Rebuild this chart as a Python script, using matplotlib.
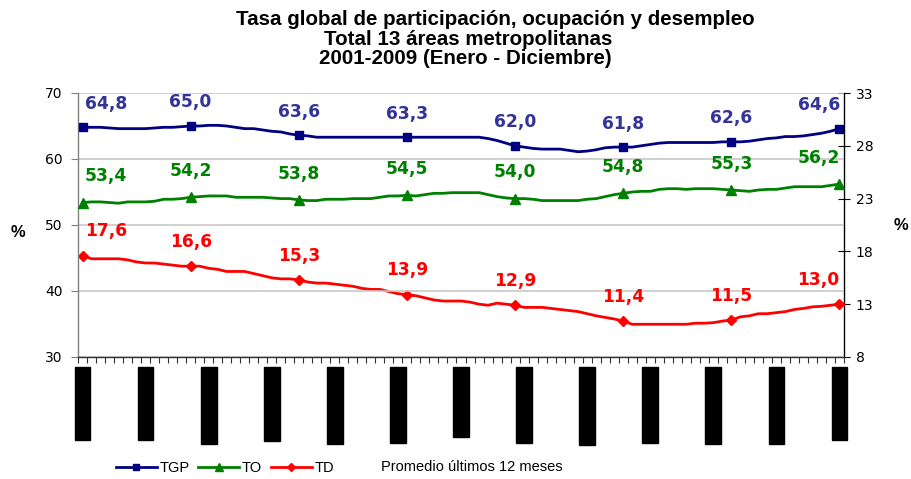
import matplotlib
matplotlib.use("Agg")
import matplotlib.pyplot as plt
import matplotlib.transforms as mtransforms
from matplotlib.patches import Rectangle
from matplotlib.lines import Line2D

plt.rcParams['font.family'] = ['Liberation Sans', 'DejaVu Sans']

title_lines = ["Tasa global de participación, ocupación y desempleo",
               "Total 13 áreas metropolitanas",
               "2001-2009 (Enero - Diciembre)"]

tgp = [64.8, 64.8, 64.8, 64.7, 64.6, 64.6, 64.6, 64.6, 64.7, 64.8, 64.8, 64.9,
       65.0, 65.0, 65.1, 65.1, 65.0, 64.8, 64.6, 64.6, 64.4, 64.2, 64.1, 63.8,
       63.6, 63.5, 63.3, 63.3, 63.3, 63.3, 63.3, 63.3, 63.3, 63.3, 63.3, 63.3,
       63.3, 63.3, 63.3, 63.3, 63.3, 63.3, 63.3, 63.3, 63.3, 63.1, 62.8, 62.4,
       62.0, 61.8, 61.6, 61.5, 61.5, 61.5, 61.3, 61.1, 61.2, 61.4, 61.7, 61.8,
       61.8, 61.8, 62.0, 62.2, 62.4, 62.5, 62.5, 62.5, 62.5, 62.5, 62.5, 62.6,
       62.6, 62.6, 62.7, 62.9, 63.1, 63.2, 63.4, 63.4, 63.5, 63.7, 63.9, 64.2,
       64.6]
to = [53.4, 53.5, 53.5, 53.4, 53.3, 53.5, 53.5, 53.5, 53.6, 53.9, 53.9, 54.0,
      54.2, 54.3, 54.4, 54.4, 54.4, 54.2, 54.2, 54.2, 54.2, 54.1, 54.0, 54.0,
      53.8, 53.7, 53.7, 53.9, 53.9, 53.9, 54.0, 54.0, 54.0, 54.2, 54.4, 54.4,
      54.5, 54.4, 54.6, 54.8, 54.8, 54.9, 54.9, 54.9, 54.9, 54.6, 54.3, 54.1,
      54.0, 54.0, 53.9, 53.7, 53.7, 53.7, 53.7, 53.7, 53.9, 54.0, 54.3, 54.6,
      54.8, 55.0, 55.1, 55.1, 55.4, 55.5, 55.5, 55.4, 55.5, 55.5, 55.5, 55.4,
      55.3, 55.2, 55.1, 55.3, 55.4, 55.4, 55.6, 55.8, 55.8, 55.8, 55.8, 56.0,
      56.2]
td = [17.6, 17.3, 17.3, 17.3, 17.3, 17.2, 17.0, 16.9, 16.9, 16.8, 16.7, 16.6,
      16.6, 16.6, 16.4, 16.3, 16.1, 16.1, 16.1, 15.9, 15.7, 15.5, 15.4, 15.4,
      15.3, 15.1, 15.0, 15.0, 14.9, 14.8, 14.7, 14.5, 14.4, 14.4, 14.2, 14.0,
      13.9, 13.8, 13.6, 13.4, 13.3, 13.3, 13.3, 13.2, 13.0, 12.9, 13.1, 13.0,
      12.9, 12.7, 12.7, 12.7, 12.6, 12.5, 12.4, 12.3, 12.1, 11.9, 11.75, 11.6,
      11.4, 11.1, 11.1, 11.1, 11.1, 11.1, 11.1, 11.1, 11.2, 11.2, 11.25, 11.4,
      11.5, 11.8, 11.9, 12.1, 12.1, 12.2, 12.3, 12.5, 12.6, 12.75, 12.8, 12.9,
      13.0]

marker_idx = [0, 12, 24, 36, 48, 60, 72, 84]
tgp_labels = ["64,8", "65,0", "63,6", "63,3", "62,0", "61,8", "62,6", "64,6"]
to_labels = ["53,4", "54,2", "53,8", "54,5", "54,0", "54,8", "55,3", "56,2"]
td_labels = ["17,6", "16,6", "15,3", "13,9", "12,9", "11,4", "11,5", "13,0"]

left_ticks = [30, 40, 50, 60, 70]
right_ticks = [8, 13, 18, 23, 28, 33]

# redacted (blacked-out) category labels, every 7 months
cat_label_idx = list(range(0, 85, 7))
cat_label_len = [73, 73, 77, 74, 77, 76, 70, 76, 78, 76, 77, 77, 73]

c_tgp = "#000080"
c_to = "#008000"
c_td = "#FF0000"
c_tgp_lbl = "#333399"

fig = plt.figure(figsize=(9.12, 4.79), dpi=100)
ax = fig.add_axes([78/912, 1-357/479, (844-78)/912, (357-93)/479])
ax2 = ax.twinx()

x = list(range(len(tgp)))
ax.plot(x, tgp, color=c_tgp, lw=2, zorder=3)
ax.plot(x, to, color=c_to, lw=2, zorder=3)
ax2.plot(x, td, color=c_td, lw=2, zorder=3)
ax.plot(marker_idx, [tgp[i] for i in marker_idx], ls='none', marker='s', ms=6, color=c_tgp, zorder=4)
ax.plot(marker_idx, [to[i] for i in marker_idx], ls='none', marker='^', ms=7, color=c_to, zorder=4)
ax2.plot(marker_idx, [td[i] for i in marker_idx], ls='none', marker='D', ms=5.5, color=c_td, zorder=4)

def lbl_x(k):
    return {0: 17, len(marker_idx)-1: -15}.get(k, 0)

lbl_font = dict(fontsize=12.3, fontweight='bold', family='DejaVu Sans', ha='center', va='center')
for k, i in enumerate(marker_idx):
    ax.annotate(tgp_labels[k], (i, tgp[i]), xytext=(lbl_x(k), 17), textcoords='offset points',
                color=c_tgp_lbl, zorder=6, **lbl_font)
    ax.annotate(to_labels[k], (i, to[i]), xytext=(lbl_x(k), 19), textcoords='offset points',
                color=c_to, zorder=6, **lbl_font)
    ax.annotate(td_labels[k], (i, td[i]), xycoords=ax2.transData, xytext=(lbl_x(k), 17.5),
                textcoords='offset points', color=c_td, zorder=6, **lbl_font)

ax.set_xlim(-0.5, len(tgp) - 0.5)
ax.set_ylim(30, 70)
ax2.set_ylim(8, 33)
ax.set_yticks(left_ticks)
ax2.set_yticks(right_ticks)
ax.set_yticklabels([str(v) for v in left_ticks], fontsize=10, family='DejaVu Sans')
ax2.set_yticklabels([str(v) for v in right_ticks], fontsize=10, family='DejaVu Sans')
ax.set_xticks([i - 0.5 for i in range(len(tgp) + 1)])
ax.set_xticklabels([])
ax.tick_params(axis='x', length=4, width=0.8, direction='out', color='#333333')
ax.tick_params(axis='y', length=5, width=0.8, direction='out', pad=6, color='#808080')
ax2.tick_params(axis='y', length=9, width=0.8, direction='inout', pad=4, color='black')
ax.grid(axis='y', color='#C8C8C8', lw=1.2, zorder=0)
for sp in ['top']:
    ax.spines[sp].set_visible(False)
    ax2.spines[sp].set_visible(False)
ax2.spines['left'].set_visible(False)
ax2.spines['bottom'].set_visible(False)
ax.spines['right'].set_visible(False)
ax.spines['left'].set_color('#808080')
ax.spines['bottom'].set_color('#333333')
ax2.spines['right'].set_color('black')
for s in [ax.spines['left'], ax.spines['bottom'], ax2.spines['right']]:
    s.set_linewidth(1.0)
ax.set_zorder(ax2.get_zorder() + 1)
ax.patch.set_visible(False)

ax.set_ylabel('%', rotation=0, fontsize=12, fontweight='bold', va='center')
ax2.set_ylabel('%', rotation=0, fontsize=12, fontweight='bold', va='center')
ax.yaxis.set_label_coords(-0.078, 0.47)
ax2.yaxis.set_label_coords(1.075, 0.50)

# blacked-out category labels
trans = mtransforms.blended_transform_factory(ax.transData, ax.transAxes)
ppx = 1.0 / 264.0
for k, i in enumerate(cat_label_idx):
    ax.add_patch(Rectangle((i - 0.87, -10 * ppx), 1.74, -cat_label_len[k] * ppx,
                           transform=trans, color='black', clip_on=False, zorder=5))

# title
title_base = [25, 45, 64]
title_xc = [495.5, 468.5, 465.5]
for t, yy, xc in zip(title_lines, title_base, title_xc):
    fig.text(xc / 912, 1 - yy / 479, t, ha='center', va='baseline', fontsize=14.8, fontweight='bold')

handles = [Line2D([], [], color=c_tgp, lw=2, marker='s', ms=5),
           Line2D([], [], color=c_to, lw=2, marker='^', ms=6),
           Line2D([], [], color=c_td, lw=2, marker='D', ms=4.5)]
fig.legend(handles, ['TGP', 'TO', 'TD'], ncol=3, loc='center', bbox_to_anchor=(225/912, 1 - 468/479),
           frameon=False, prop={'family': 'Liberation Sans', 'size': 10.5},
           handlelength=2.8, handletextpad=0.2, columnspacing=0.6)
fig.text(381/912, 1 - 467/479, 'Promedio últimos 12 meses', ha='left', va='center',
         fontsize=10.5, family='Liberation Sans')

fig.savefig('out.png', dpi=100)
